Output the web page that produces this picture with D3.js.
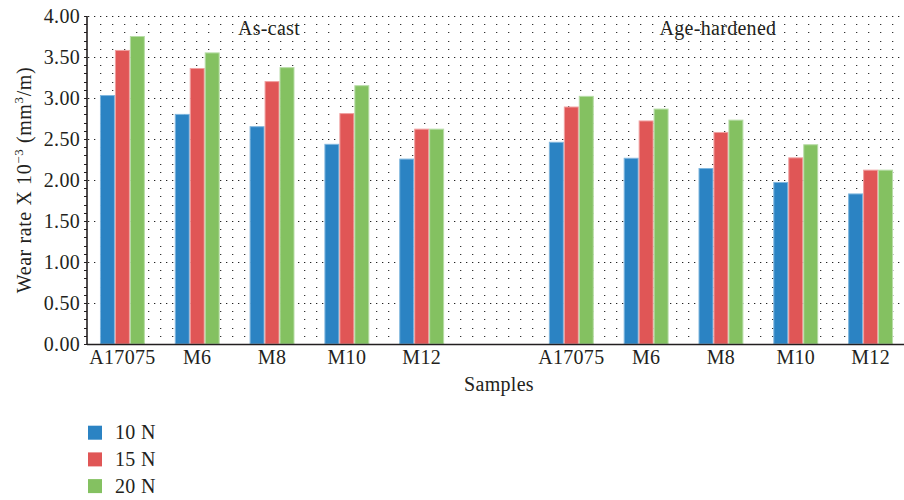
<!DOCTYPE html>
<html>
<head>
<meta charset="utf-8">
<script src="https://cdn.jsdelivr.net/npm/d3@7"></script>
<style>
  html, body { margin: 0; padding: 0; background: #fff; }
  svg { display: block; }
  text { font-family: "Liberation Serif", "Times New Roman", serif; fill: #231f20; letter-spacing: 0.3px; }
</style>
</head>
<body>
<svg id="chart" width="904" height="500"></svg>
<script>
// ---- data ----
const categories = ["A17075", "M6", "M8", "M10", "M12", "", "A17075", "M6", "M8", "M10", "M12"];
const seriesNames = ["10 N", "15 N", "20 N"];
const load10N = [3.03, 2.80, 2.65, 2.435, 2.255, null, 2.46, 2.265, 2.14, 1.97, 1.83];
const load15N = [3.58, 3.36, 3.20, 2.81, 2.62, null, 2.89, 2.72, 2.58, 2.27, 2.12];
const load20N = [3.75, 3.55, 3.37, 3.15, 2.62, null, 3.02, 2.865, 2.73, 2.43, 2.12];
const conditionLabels = ["As-cast", "Age-hardened"];
const conditionAt = [2, 8];
const yTickValues = [0, 0.5, 1, 1.5, 2, 2.5, 3, 3.5, 4];
const yTitle = "Wear rate X 10";
const xTitle = "Samples";
const colors = ["#2b83c3", "#e05656", "#84c161"];
const strokes = ["#7fb6de", "#f0a0a0", "#b7dca6"];

const seriesValues = [load10N, load15N, load20N];

(function draw() {
const svg = d3.select("#chart");
const pLeft = 87, pRight = 904, pTop = 16, pBottom = 344;
const fs = 20;

const x = d3.scaleBand()
  .domain(d3.range(categories.length))
  .range([85, 908])
  .paddingInner(0.4)
  .paddingOuter(0.2);

const xs = d3.scaleBand()
  .domain(d3.range(seriesNames.length))
  .range([0, x.bandwidth()])
  .padding(0);

const y = d3.scaleLinear().domain([0, 4]).range([pBottom, pTop]);

// ---- dotted grid ----
const grid = svg.append("g");
const minorVals = d3.range(1, 41).map(d => d / 10).filter(v => Math.abs(v * 2 - Math.round(v * 2)) > 1e-6);
grid.selectAll("line.minor").data(minorVals).join("line")
  .attr("x1", 100).attr("x2", pRight)
  .attr("y1", d => Math.round(y(d)) + 0.5).attr("y2", d => Math.round(y(d)) + 0.5)
  .attr("stroke", "#333").attr("stroke-width", 1)
  .attr("stroke-dasharray", "1.3,10.7");
grid.selectAll("line.major").data(yTickValues.filter(v => v > 0)).join("line")
  .attr("x1", 88).attr("x2", pRight)
  .attr("y1", d => Math.round(y(d)) + 0.5).attr("y2", d => Math.round(y(d)) + 0.5)
  .attr("stroke", "#222").attr("stroke-width", 1)
  .attr("stroke-dasharray", "1.3,4.7");

// ---- bars ----
const barsG = svg.append("g");
categories.forEach((c, i) => {
  seriesValues.forEach((vals, s) => {
    const v = vals[i];
    if (v == null) return;
    barsG.append("rect")
      .attr("x", x(i) + xs(s) + 0.5)
      .attr("y", y(v))
      .attr("width", xs.bandwidth() - 1)
      .attr("height", y(0) - y(v))
      .attr("fill", colors[s])
      .attr("stroke", strokes[s])
      .attr("stroke-width", 1);
  });
});

// ---- axes ----
const yAxis = d3.axisLeft(y).tickValues(yTickValues).tickFormat(d3.format(".2f")).tickSize(0).tickPadding(7);
const yg = svg.append("g").attr("transform", `translate(${pLeft},0)`).call(yAxis);
yg.select(".domain").remove();
yg.selectAll("text").attr("font-size", fs).style("font-family", "Liberation Serif").attr("fill", "#231f20");

svg.append("g").selectAll("line").data(d3.range(0, 41).map(d => d / 10)).join("line")
  .attr("x1", pLeft - 3).attr("x2", pLeft)
  .attr("y1", d => Math.round(y(d)) + 0.5).attr("y2", d => Math.round(y(d)) + 0.5)
  .attr("stroke", "#231f20").attr("stroke-width", 1);

svg.append("line").attr("x1", pLeft).attr("x2", pLeft).attr("y1", pTop).attr("y2", pBottom + 1)
  .attr("stroke", "#231f20").attr("stroke-width", 1.6);

const xAxis = d3.axisBottom(x).tickFormat(i => categories[i]).tickSize(0).tickPadding(6);
const xg = svg.append("g").attr("transform", `translate(0,${pBottom})`).call(xAxis);
xg.select(".domain").remove();
xg.selectAll("text").attr("font-size", fs).style("font-family", "Liberation Serif").attr("fill", "#231f20");

svg.append("line").attr("x1", pLeft).attr("x2", pRight).attr("y1", pBottom + 0.5).attr("y2", pBottom + 0.5)
  .attr("stroke", "#231f20").attr("stroke-width", 1.6);

// ---- titles ----
const yt = svg.append("text")
  .attr("transform", `translate(31,180) rotate(-90)`)
  .attr("text-anchor", "middle")
  .attr("font-size", fs)
  .style("letter-spacing", "0.6px");
yt.append("tspan").text(yTitle);
yt.append("tspan").attr("dy", -8).attr("font-size", 13).text("−3");
yt.append("tspan").attr("dy", 8).text(" (mm");
yt.append("tspan").attr("dy", -8).attr("font-size", 13).text("3");
yt.append("tspan").attr("dy", 8).text("/m)");

svg.append("text").attr("x", 499).attr("y", 391).attr("text-anchor", "middle")
  .attr("font-size", fs).text(xTitle);

// ---- condition labels ----
conditionLabels.forEach((t, k) => {
  svg.append("text")
    .attr("x", x(conditionAt[k]) + x.bandwidth() / 2 - 3)
    .attr("y", 35)
    .attr("text-anchor", "middle")
    .attr("font-size", fs)
    .text(t);
});

// ---- legend ----
const lg = svg.append("g");
seriesNames.forEach((n, s) => {
  const cy = 432.7 + s * 26.7;
  lg.append("rect").attr("x", 88).attr("y", cy - 7).attr("width", 14).attr("height", 14).attr("fill", colors[s]);
  lg.append("text").attr("x", 115).attr("y", cy + 6.5).attr("font-size", fs).text(n);
});
})();
</script>
</body>
</html>
